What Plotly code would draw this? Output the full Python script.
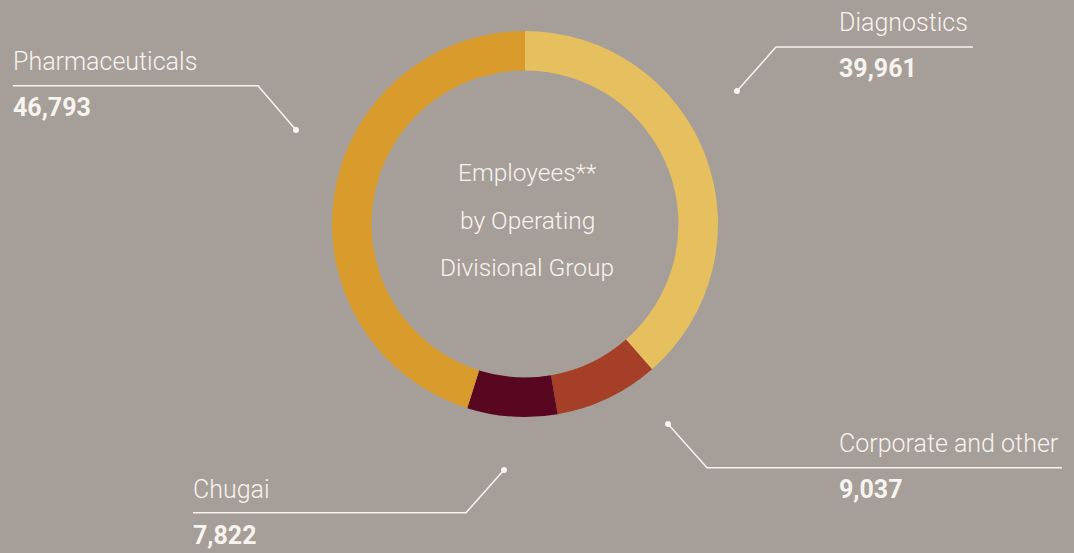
import plotly.graph_objects as go

# ---- data ----
categories = ["Diagnostics", "Corporate and other", "Chugai", "Pharmaceuticals"]
employees = [39961, 9037, 7822, 46793]
colors = ["#e6bf5f", "#a63f28", "#590620", "#d89a2a"]
center_lines = ["Employees**", "by Operating", "Divisional Group"]

W, H = 1074, 553
BG = "#a69e98"
FG = "#f7f4f0"
FONT = "Roboto, Arial, sans-serif"


def px(x):
    return x / W


def py(y):
    return 1 - y / H


fig = go.Figure()

# donut: centre (525,224), outer radius 193
cx, cy, r = 525, 224, 193
fig.add_trace(go.Pie(
    labels=categories,
    values=employees,
    marker=dict(colors=colors, line=dict(width=0)),
    hole=0.795,
    sort=False,
    direction="clockwise",
    rotation=0,
    textinfo="none",
    hoverinfo="label+value",
    showlegend=False,
    domain=dict(x=[px(cx - r), px(cx + r)], y=[py(cy + r), py(cy - r)]),
))

# label layout (pixel positions of text, leader line and dot)
label_layout = {
    "Pharmaceuticals": dict(tx=13, ty=61.7, ny=107.8,
                            line=[(13, 85.7), (258, 85.7), (296, 130)]),
    "Diagnostics": dict(tx=839, ty=22.2, ny=68.9,
                        line=[(973, 47), (776, 47), (737, 91)]),
    "Corporate and other": dict(tx=839, ty=443.8, ny=489.5,
                                line=[(1062, 467.7), (707, 467.7), (668, 424)]),
    "Chugai": dict(tx=193, ty=489.5, ny=535.3,
                   line=[(193, 512.7), (466, 512.7), (504, 470)]),
}

annotations = []
shapes = []
for cat, val in zip(categories, employees):
    L = label_layout[cat]
    annotations.append(dict(
        x=px(L["tx"] - 2), y=py(L["ty"]), xref="paper", yref="paper",
        xanchor="left", yanchor="middle", showarrow=False,
        text=cat, font=dict(family=FONT, size=25, color=FG, weight=300)))
    annotations.append(dict(
        x=px(L["tx"] - 2), y=py(L["ny"]), xref="paper", yref="paper",
        xanchor="left", yanchor="middle", showarrow=False,
        text=f"{val:,}", font=dict(family=FONT, size=25, color=FG, weight=700)))
    pts = L["line"]
    path = "M " + " L ".join(f"{px(x)},{py(y)}" for x, y in pts)
    shapes.append(dict(type="path", path=path, xref="paper", yref="paper",
                       line=dict(color=FG, width=1.5)))
    dx, dy = pts[-1]
    rr = 3
    shapes.append(dict(type="circle", xref="paper", yref="paper",
                       x0=px(dx - rr), x1=px(dx + rr), y0=py(dy + rr), y1=py(dy - rr),
                       fillcolor=FG, line=dict(width=0)))

for i, t in enumerate(center_lines):
    annotations.append(dict(
        x=px(cx + 2), y=py(172.5 + 47.7 * i), xref="paper", yref="paper",
        xanchor="center", yanchor="middle", showarrow=False,
        text=t, font=dict(family=FONT, size=24.5, color=FG, weight=300)))

fig.update_layout(
    width=W, height=H,
    margin=dict(l=0, r=0, t=0, b=0),
    paper_bgcolor=BG, plot_bgcolor=BG,
    annotations=annotations,
    shapes=shapes,
)

fig.write_html(
    "out.html",
    config={"displayModeBar": False},
    post_script="document.body.style.margin='0';document.body.style.overflow='hidden';"
                "document.body.style.background='" + BG + "';",
)
